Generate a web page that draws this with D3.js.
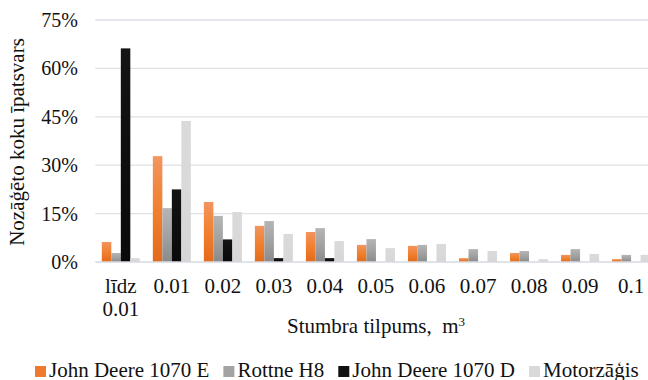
<!DOCTYPE html>
<html>
<head>
<meta charset="utf-8">
<script src="https://cdn.jsdelivr.net/npm/d3@7"></script>
<style>
  html, body { margin: 0; padding: 0; background: #fff; }
  svg { display: block; }
</style>
</head>
<body>
<svg id="chart" width="648" height="380" font-family="Liberation Serif" fill="#111"></svg>
<script>
// Stem volume classes (m³)
const categories = ["līdz 0.01", "0.01", "0.02", "0.03", "0.04", "0.05", "0.06", "0.07", "0.08", "0.09", "0.1"];
const seriesNames = ["John Deere 1070 E", "Rottne H8", "John Deere 1070 D", "Motorzāģis"];

// Share of felled trees per class, %
const jd1070e   = [6.2, 32.8, 18.6, 11.2, 9.3, 5.3, 5.0, 1.2, 2.8, 2.2, 0.9];
const rottneH8  = [2.8, 16.7, 14.3, 12.7, 10.5, 7.1, 5.3, 4.0, 3.4, 4.0, 2.2];
const jd1070d   = [66.2, 22.5, 7.0, 1.2, 1.2, 0, 0, 0, 0, 0, 0];
const motorsaw  = [1.2, 43.7, 15.5, 8.7, 6.5, 4.3, 5.6, 3.4, 0.9, 2.5, 2.2];

const yTicks = [0, 15, 30, 45, 60, 75];

const seriesValues = [jd1070e, rottneH8, jd1070d, motorsaw];

const FONT = "Liberation Serif";
const svg = d3.select("#chart");
const W = 648, H = 380;
const plot = { left: 95.3, right: 656.6, top: 20, bottom: 262 };

// gradients for the bar fills
const defs = svg.append("defs");
const fills = [
  { id: "gOrange", top: "#f2955f", mid: "#f0802f", bot: "#e46a1b" },
  { id: "gGray",   top: "#b5b5b5", mid: "#a2a2a2", bot: "#8a8a8a" },
  { id: "gBlack",  top: "#141414", mid: "#0e0e0e", bot: "#0a0a0a" },
  { id: "gLight",  top: "#dadada", mid: "#d9d9d9", bot: "#d6d6d6" }
];
fills.forEach(f => {
  const g = defs.append("linearGradient").attr("id", f.id)
    .attr("x1", 0).attr("y1", 0).attr("x2", 0).attr("y2", 1);
  g.append("stop").attr("offset", "0%").attr("stop-color", f.top);
  g.append("stop").attr("offset", "50%").attr("stop-color", f.mid);
  g.append("stop").attr("offset", "100%").attr("stop-color", f.bot);
});
const legendColors = ["#ef7a2e", "#a3a3a3", "#111111", "#d9d9d9"];

const x = d3.scaleBand().domain(categories)
  .range([plot.left, plot.right]).paddingInner(0.255).paddingOuter(0.1275);
const xs = d3.scaleBand().domain(d3.range(seriesNames.length))
  .range([0, x.bandwidth()]).padding(0);
const y = d3.scaleLinear().domain([0, 75]).range([plot.bottom, plot.top]);

// horizontal gridlines
svg.append("g").selectAll("line").data(yTicks.filter(t => t > 0)).join("line")
  .attr("x1", plot.left).attr("x2", W)
  .attr("y1", d => y(d)).attr("y2", d => y(d))
  .attr("stroke", "#dde1e6").attr("stroke-width", 1.3);

// y axis labels
const yAxis = d3.axisLeft(y).tickValues(yTicks).tickFormat(d => d + "%").tickSize(0).tickPadding(0);
const yg = svg.append("g").attr("transform", `translate(78,0)`).call(yAxis)
  .attr("font-family", FONT).attr("font-size", 20);
yg.select(".domain").remove();
yg.selectAll("text").attr("fill", "#111").attr("font-family", FONT);

// bars
const groups = svg.append("g").selectAll("g").data(categories).join("g")
  .attr("transform", d => `translate(${x(d)},0)`);
groups.selectAll("rect")
  .data((c, i) => seriesValues.map((vals, s) => ({ s, v: vals[i] })))
  .join("rect")
  .attr("x", d => xs(d.s))
  .attr("width", xs.bandwidth())
  .attr("y", d => y(d.v))
  .attr("height", d => plot.bottom - y(d.v))
  .attr("fill", d => `url(#${fills[d.s].id})`);

// baseline
svg.append("line")
  .attr("x1", plot.left).attr("x2", W)
  .attr("y1", y(0)).attr("y2", y(0))
  .attr("stroke", "#d6dae0").attr("stroke-width", 1.6);

// x axis labels (first one wraps onto two lines)
const xl = svg.append("g").attr("font-family", FONT).attr("font-size", 21)
  .selectAll("text").data(categories).join("text")
  .attr("text-anchor", "middle")
  .attr("x", d => x(d) + x.bandwidth() / 2)
  .attr("y", 292.7);
xl.each(function (d) {
  const parts = d.split(" ");
  const t = d3.select(this);
  parts.forEach((p, i) => {
    t.append("tspan").attr("x", x(d) + x.bandwidth() / 2)
      .attr("dy", i === 0 ? 0 : 23.3).text(p);
  });
});

// axis titles
const xt = svg.append("text").attr("text-anchor", "middle")
  .attr("font-family", FONT).attr("font-size", 21)
  .attr("x", 376).attr("y", 333)
  .style("white-space", "pre");
xt.append("tspan").text("Stumbra tilpums,  m");
xt.append("tspan").attr("dy", -7).attr("font-size", 13).text("3");

svg.append("text").attr("text-anchor", "middle")
  .attr("font-family", FONT).attr("font-size", 21)
  .attr("transform", "translate(24,142) rotate(-90)")
  .text("Nozāģēto koku īpatsvars");

// legend
const lg = svg.append("g").attr("font-family", FONT).attr("font-size", 21);
let lx = 35;
seriesNames.forEach((name, i) => {
  lg.append("rect").attr("x", lx).attr("y", 366).attr("width", 11).attr("height", 11)
    .attr("fill", legendColors[i]);
  const t = lg.append("text").attr("x", lx + 14).attr("y", 376.5).text(name);
  lx += 14 + t.node().getComputedTextLength() + 14;
});
</script>
</body>
</html>
